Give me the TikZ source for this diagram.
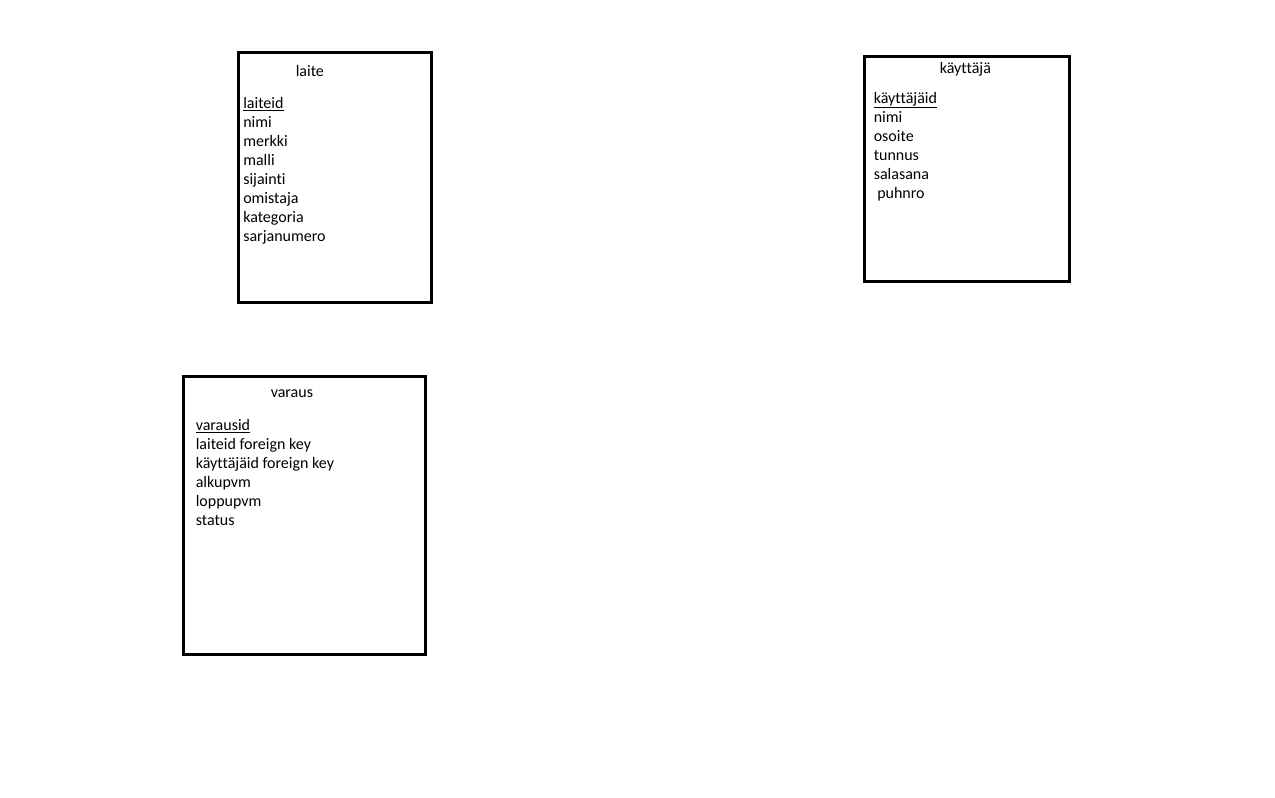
\documentclass[tikz,border=0pt]{standalone}
\usepackage{fontspec}
\setmainfont[Ligatures={NoCommon}]{Carlito}
\begin{document}
\begin{tikzpicture}[x=0.75pt,y=-0.75pt]
	\tikzstyle{entity}=[draw=black,line width=2.25pt,inner sep=0pt]
	\tikzstyle{label}=[anchor=base west,inner sep=0pt,font=\fontsize{12}{14}\selectfont]
	\useasboundingbox (0,0) rectangle (1275,797);
	% tables
	\node[entity,minimum width=144.4pt,minimum height=187.5pt](laite) at (335,177) {};
	\node[entity,minimum width=153.4pt,minimum height=169.1pt](kayttaja) at (967.25,169.25) {};
	\node[entity,minimum width=181.7pt,minimum height=208.3pt](varaus) at (304.15,515.85) {};
	% laite
	\node[label](laite-title) at (295.5,76) {laite};
	\node[label](laite-0) at (243,108) {\underline{laiteid}};
	\foreach \f [count=\i] in {nimi,merkki,malli,sijainti,omistaja,kategoria,sarjanumero}
		\node[label](laite-\i) at (243,{108+19*\i}) {\f};
	% kayttaja
	\node[label](kayttaja-title) at (939.5,73) {käyttäjä};
	\node[label](kayttaja-0) at (873.5,103) {\underline{käyttäjäid}};
	\foreach \f [count=\i] in {nimi,osoite,tunnus,salasana}
		\node[label](kayttaja-\i) at (873.5,{103+19*\i}) {\f};
	\node[label](kayttaja-5) at (877,198) {puhnro};
	% varaus
	\node[label](varaus-title) at (270.5,397) {varaus};
	\node[label](varaus-0) at (195.5,430) {\underline{varausid}};
	\foreach \f [count=\i] in {laiteid foreign key,käyttäjäid foreign key,alkupvm,loppupvm,status}
		\node[label](varaus-\i) at (195.5,{430+19*\i}) {\f};
\end{tikzpicture}
\end{document}
